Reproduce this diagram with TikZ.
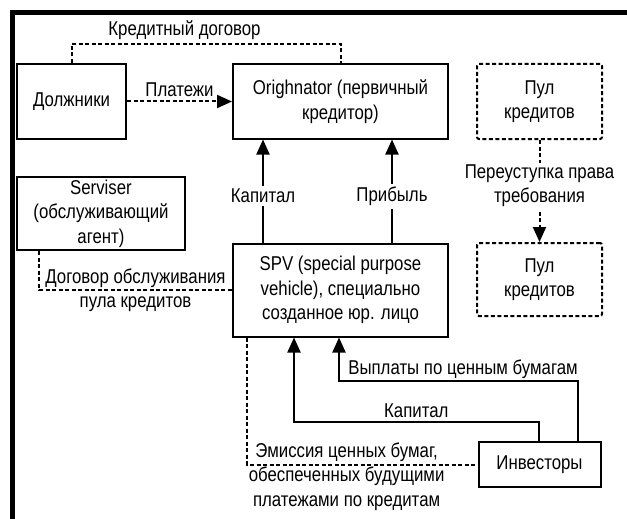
\documentclass[tikz,border=0pt]{standalone}
\usepackage{fontspec}
\setmainfont{Liberation Sans}[FakeStretch=0.84]
\usetikzlibrary{arrows.meta,positioning}

\begin{document}
\begin{tikzpicture}[x=1pt,y=-1pt,>={Triangle[length=15pt,width=13pt]},line width=2pt,node distance=50pt,
  main node/.style={rectangle,draw,align=center,font=\fontsize{20}{24.5}\selectfont,inner sep=0pt},
  pool node/.style={main node,dash pattern=on 4pt off 2.5pt,rounded corners=2pt},
  label node/.style={font=\fontsize{20}{24.5}\selectfont,align=center},
  dash line/.style={dash pattern=on 4pt off 2.5pt}]
      \useasboundingbox (0,0) rectangle (627,519);
      \draw[line width=5pt] (12,519) -- (12,13) -- (627,13);

      \node[main node,minimum width=109pt,minimum height=75pt] (1) at (71.5,101.5) {Должники};
      \node[main node,minimum width=215pt,minimum height=74pt] (2) [right of=1,node distance=269pt] {Orighnator (первичный\\кредитор)};
      \node[pool node,minimum width=125pt,minimum height=75pt] (3) [right of=2,node distance=199pt] {Пул\\кредитов};
      \node[main node,minimum width=215pt,minimum height=93pt] (4) [below of=2,node distance=188.5pt] {SPV (special purpose\\vehicle), специально\\созданное юр. лицо};
      \node[pool node,minimum width=125pt,minimum height=73pt] (5) [below of=3,node distance=178pt] {Пул\\кредитов};
      \node[main node,minimum width=168pt,minimum height=73pt] (6) at (101,213.5) {Serviser\\(обслуживающий\\агент)};
      \node[main node,minimum width=122pt,minimum height=45pt] (7) [below of=5,node distance=185pt] {Инвесторы};

      \draw[dash line] (1.north) -- ++(0,-19) -| node[label node,above,pos=0.21] {Кредитный договор} (2.north);
      \draw[dash line,->] (1) -- node[label node,above] {Платежи} (2);
      \draw[->] ([xshift=-77.5pt]4.north) -- node[label node,fill=white,inner sep=3pt,pos=0.45] {Капитал} ([xshift=-77.5pt]2.south);
      \draw[->] ([xshift=51.5pt]4.north) -- node[label node,fill=white,inner sep=3pt,pos=0.45] {Прибыль} ([xshift=51.5pt]2.south);
      \draw[dash line,->] (3) -- node[label node,fill=white,inner sep=2pt,pos=0.45] {Переуступка права\\требования} (5);
      \draw[dash line] ([xshift=-62pt]6.south) |- node[label node,pos=0.75] {Договор обслуживания\\пула кредитов} (4.west);
      \draw[->] ([xshift=-1pt]7.north) -- ++(0,-19) -| node[label node,above,pos=0.25] {Капитал} ([xshift=-46.5pt]4.south);
      \draw[->] ([xshift=38pt]7.north) -- ++(0,-60) -| node[label node,above,inner sep=1pt,pos=0.24] {Выплаты по ценным бумагам} ([xshift=-1.5pt]4.south);
      \draw[dash line] ([xshift=-93.5pt]4.south) |- node[label node,pos=0.716,yshift=-12pt] {Эмиссия ценных бумаг,\\обеспеченных будущими\\платежами по кредитам} (7.west);

    \end{tikzpicture}
\end{document}
